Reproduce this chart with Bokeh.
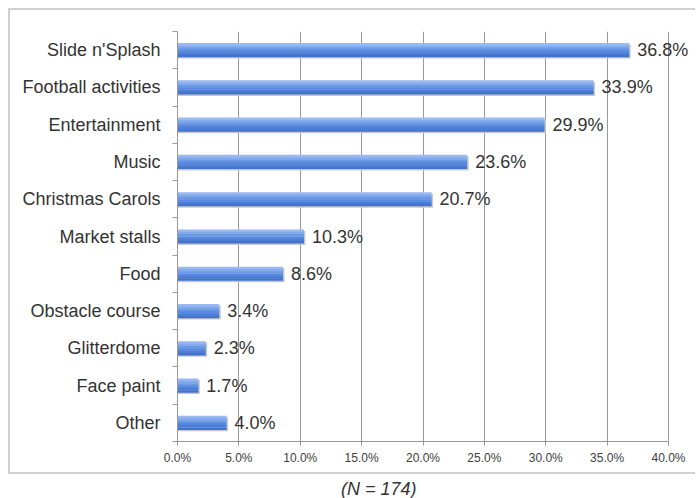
from bokeh.plotting import figure
from bokeh.models import FixedTicker, PrintfTickFormatter, ColumnDataSource, Div, LabelSet
from bokeh.layouts import column
from bokeh.embed import file_html
from bokeh.resources import INLINE
from bokeh.core.properties import value

categories = ["Slide n'Splash", "Football activities", "Entertainment", "Music",
              "Christmas Carols", "Market stalls", "Food", "Obstacle course",
              "Glitterdome", "Face paint", "Other"]
values = [36.8, 33.9, 29.9, 23.6, 20.7, 10.3, 8.6, 3.4, 2.3, 1.7, 4.0]
x_ticks = [0, 5, 10, 15, 20, 25, 30, 35, 40]
footnote = "(N = 174)"

n = len(categories)
ypos = [n - i for i in range(n)]
src = ColumnDataSource(dict(
    y=ypos, v=values,
    lbl=["%.1f%%" % v for v in values],
    y_sh=[y - 0.04 for y in ypos],
    v_sh=[v + 0.12 for v in values],
))

FONT = "Liberation Sans"
BAR_H = 0.375
X_MAX = x_ticks[-1]
# frame extends past the 40% line so the value labels are not clipped
X_END = X_MAX * 520 / 491

p = figure(width=687, height=466, output_backend="svg", toolbar_location=None,
           x_range=(0, X_END), y_range=(0.5, n + 0.5),
           min_border_left=167, min_border_right=0, min_border_top=21, min_border_bottom=35)
p.styles = {"border-left": "2px solid #d0d0d0", "border-top": "2px solid #d0d0d0",
            "border-bottom": "2px solid #d0d0d0", "margin-top": "8px", "margin-left": "8px"}
p.outline_line_color = None
p.background_fill_color = "white"

# bar shadow
p.hbar(y="y_sh", right="v_sh", left=0, height=BAR_H, source=src, color="#c8c8c8", line_color=None)
# bars drawn as bands to mimic the vertical gradient
band_colors = ["#98b9f1", "#82aaed", "#6a99e6", "#5889df", "#4c7ed9", "#4273cc"]
nb = len(band_colors)
bh = BAR_H / nb
for k, c in enumerate(band_colors):
    off = BAR_H / 2 - bh * (k + 0.5)
    band_src = ColumnDataSource(dict(y=[y + off for y in ypos], v=values))
    p.hbar(y="y", right="v", left=0, height=bh * 1.08, source=band_src, color=c, line_color=None)

labels = LabelSet(x="v", y="y", text="lbl", source=src, x_offset=8, text_baseline="middle",
                  text_font=value(FONT), text_font_size=value("18px"), text_color=value("#333333"))
p.add_layout(labels)

# x axis
p.xaxis.ticker = FixedTicker(ticks=x_ticks)
p.xaxis.bounds = (0, X_MAX)
p.xaxis.formatter = PrintfTickFormatter(format="%.1f%%")
p.xaxis.axis_line_color = "#999999"
p.xaxis.major_tick_line_color = "#999999"
p.xaxis.major_tick_in = 0
p.xaxis.major_tick_out = 4
p.xaxis.minor_tick_line_color = None
p.xaxis.major_label_text_font = FONT
p.xaxis.major_label_text_font_size = "12px"
p.xaxis.major_label_text_color = "#404040"
p.xaxis.major_label_standoff = 5

# y axis
p.yaxis.ticker = FixedTicker(ticks=ypos, minor_ticks=[i + 0.5 for i in range(n + 1)])
p.yaxis.major_label_overrides = {y: c for y, c in zip(ypos, categories)}
p.yaxis.axis_line_color = "#999999"
p.yaxis.major_tick_line_color = None
p.yaxis.major_tick_in = 0
p.yaxis.major_tick_out = 0
p.yaxis.minor_tick_line_color = "#999999"
p.yaxis.minor_tick_in = 0
p.yaxis.minor_tick_out = 5
p.yaxis.major_label_text_font = FONT
p.yaxis.major_label_text_font_size = "18px"
p.yaxis.major_label_text_color = "#333333"
p.yaxis.major_label_standoff = 12

p.xgrid.ticker = FixedTicker(ticks=x_ticks)
p.xgrid.bounds = (0, X_MAX)
p.xgrid.grid_line_color = "#999999"
p.ygrid.grid_line_color = None

note = Div(text='<i>%s</i>' % footnote, width=689, height=20,
           styles={"font-family": FONT, "font-size": "18px", "color": "#333333",
                   "line-height": "20px", "padding-left": "336px"})

layout = column(p, note, spacing=0)
open("out.html", "w").write(file_html(layout, INLINE))
